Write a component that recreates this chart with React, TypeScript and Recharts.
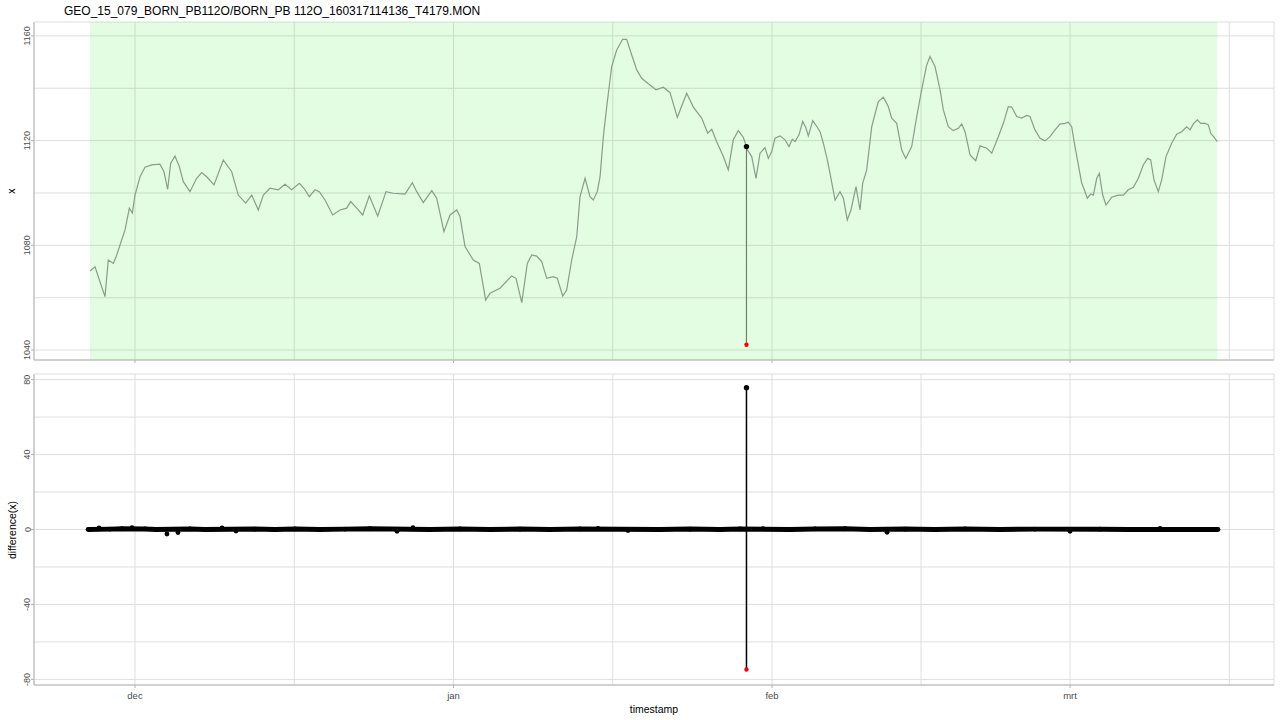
import React from 'react';
import { ComposedChart, Line, XAxis, YAxis, CartesianGrid, ReferenceArea } from 'recharts';

// time axis in days since 1 Dec 2015 (dec = 0, jan = 31, feb = 62, mrt = 91)
const days = [
  -4.38, -3.89, -3.41, -2.92, -2.6, -2.11, -1.85, -1.46, -0.97, -0.55, -0.26, 0.0, 0.49, 0.97, 1.63, 2.43, 2.82, 3.18, 3.47, 3.89,
  4.31, 4.7, 5.35, 6.0, 6.49, 6.98, 7.69, 8.59, 9.41, 10.05, 10.77, 11.36, 12.0, 12.49, 13.14, 13.95, 14.6, 15.25, 15.99, 16.45,
  16.96, 17.52, 17.94, 18.49, 19.24, 19.95, 20.6, 20.99, 21.58, 22.16, 22.8, 23.62, 24.43, 25.14, 26.28, 26.99, 27.42, 28.06, 28.88, 29.36,
  30.07, 30.66, 31.31, 31.63, 32.12, 32.92, 33.51, 34.13, 34.55, 35.52, 36.66, 37.08, 37.64, 38.18, 38.61, 39.09, 39.58, 40.07, 40.71, 41.1,
  41.63, 42.01, 42.5, 42.99, 43.31, 43.8, 44.28, 44.6, 44.99, 45.26, 45.58, 45.91, 46.39, 46.88, 47.46, 47.85, 48.34, 48.83, 49.31, 49.96,
  50.71, 51.42, 52.07, 52.78, 53.69, 54.34, 55.15, 55.74, 56.13, 56.61, 57.26, 57.74, 58.23, 58.71, 59.2, 59.51, 59.51, 59.51, 60.02,
  60.44, 60.83, 61.31, 61.64, 61.97, 62.29, 62.77, 63.26, 63.65, 63.97, 64.23, 64.62, 64.98, 65.27, 65.53, 65.96, 66.4, 66.67, 66.99, 67.38,
  67.64, 68.13, 68.61, 68.94, 69.32, 69.68, 70.17, 70.56, 70.82, 71.21, 71.7, 72.34, 72.83, 73.31, 73.64, 74.13, 74.62, 75.01, 75.59, 76.08,
  76.56, 77.05, 77.37, 77.86, 78.35, 78.67, 79.15, 79.64, 80.13, 80.46, 80.78, 81.27, 81.82, 82.24, 82.89, 83.38, 84.02, 84.51, 84.99, 85.32,
  85.81, 86.3, 86.78, 87.1, 87.59, 88.08, 88.56, 89.05, 89.54, 90.02, 90.51, 90.83, 91.16, 91.48, 91.81, 92.14, 92.39, 92.68, 93.01, 93.27,
  93.6, 93.85, 94.18, 94.5, 95.06, 95.7, 96.19, 96.67, 97.16, 97.65, 98.13, 98.56, 98.85, 99.17, 99.59, 99.92, 100.34, 100.89, 101.38, 101.87,
  102.35, 102.68, 103.0, 103.39, 103.72, 104.14, 104.46, 104.69, 105.01, 105.33,
];

const xValues = [
  1070.2, 1071.8, 1066.1, 1060.4, 1074.4, 1073.1, 1075.5, 1080.1, 1085.9, 1094.2, 1092.3, 1099.2, 1106.2, 1109.8, 1110.7, 1111.0, 1108.1, 1101.4, 1111.3, 1114.1,
  1110.1, 1104.3, 1100.5, 1105.6, 1107.8, 1106.2, 1103.1, 1112.6, 1108.1, 1099.2, 1096.1, 1099.2, 1093.5, 1099.2, 1101.8, 1101.2, 1103.3, 1101.2, 1103.7, 1101.8,
  1098.6, 1101.2, 1100.5, 1097.3, 1091.6, 1093.5, 1094.2, 1096.7, 1094.2, 1091.6, 1098.9, 1091.2, 1100.5, 1099.9, 1099.6, 1103.9, 1100.5, 1096.3, 1100.9, 1098.0,
  1085.2, 1091.6, 1093.5, 1091.0, 1079.5, 1074.4, 1073.1, 1059.1, 1061.7, 1063.6, 1068.3, 1067.4, 1058.1, 1073.1, 1076.3, 1075.9, 1073.8, 1067.4, 1068.0, 1067.4,
  1060.6, 1062.9, 1074.4, 1083.3, 1098.6, 1105.6, 1098.6, 1097.3, 1100.5, 1106.2, 1121.5, 1133.0, 1148.3, 1154.6, 1158.7, 1158.7, 1152.7, 1147.0, 1143.8, 1141.7,
  1139.4, 1140.4, 1138.3, 1128.9, 1138.1, 1132.8, 1128.6, 1122.8, 1124.3, 1119.6, 1113.9, 1108.8, 1120.3, 1123.8, 1121.3, 1117.7, 1042.0, 1117.0, 1113.9,
  1105.6, 1115.2, 1117.3, 1113.2, 1115.8, 1120.9, 1121.8, 1120.3, 1117.7, 1120.5, 1119.6, 1122.2, 1127.3, 1125.1, 1121.8, 1127.6, 1125.1, 1123.4, 1119.0, 1112.6,
  1107.5, 1097.3, 1100.5, 1098.0, 1089.7, 1093.5, 1102.4, 1093.5, 1103.7, 1108.8, 1125.3, 1134.9, 1136.6, 1133.0, 1128.6, 1126.6, 1116.4, 1113.2, 1117.7, 1129.2,
  1139.4, 1148.9, 1152.1, 1148.3, 1139.4, 1131.7, 1125.3, 1123.8, 1124.7, 1126.4, 1123.4, 1114.5, 1112.3, 1118.0, 1117.1, 1115.2, 1121.5, 1126.6, 1133.0, 1132.8,
  1129.2, 1128.6, 1129.6, 1129.2, 1124.1, 1120.9, 1119.9, 1121.5, 1124.1, 1126.3, 1126.6, 1127.0, 1125.3, 1117.7, 1110.7, 1103.7, 1101.2, 1098.0, 1099.6, 1099.2,
  1105.6, 1107.5, 1099.2, 1095.4, 1098.4, 1099.2, 1099.2, 1101.2, 1102.2, 1105.6, 1110.7, 1113.2, 1112.6, 1105.0, 1100.5, 1105.0, 1113.9, 1119.0, 1122.4, 1123.4,
  1125.3, 1124.1, 1126.4, 1127.9, 1126.6, 1126.6, 1126.0, 1122.8, 1121.3, 1119.6,
];

// difference(x): the band around zero, with the small steps that stick out of it
const diffDays = [
  -4.57, -3.5, -2.43, -1.27, -0.29, 0.97, 2.04, 3.11, 4.18, 5.35, 6.81, 8.47, 9.83, 11.68, 13.63, 15.57, 18.0, 20.44, 22.87, 25.5,
  27.06, 28.71, 31.63, 34.55, 37.47, 40.39, 43.31, 45.06, 47.98, 51.09, 54.01, 56.93, 58.88, 61.12, 63.75, 66.18, 69.1, 71.53, 73.19, 74.94,
  77.86, 80.78, 84.18, 87.59, 91.0, 93.92, 96.84, 99.76, 102.68, 105.4,
];
const diffValues = [
  0, 0.8, 0.2, 0.4, 1.0, 0.3, 0, -2.4, -1.6, 0.3, 0, 0.9, -0.8, 0.2, 0, 0.3, 0, 0.2, 0.4, -1.0,
  1.0, 0, 0.3, 0, 0.2, 0, 0.3, 0.6, -0.6, 0, 0.2, 0, 0.3, 0.5, 0, 0.3, 0.4, 0, -1.5, 0.2,
  0, 0.3, 0, 0.2, -1.0, 0.2, 0, 0.6, 0, 0,
];
// the jump into and out of the outlier
const spikeDiffs = [-74.7, 75.7];

const monthTicks = [0, 31, 62, 91];
const monthLabels = ['dec', 'jan', 'feb', 'mrt'];
const minorDayTicks = [15.5, 46.5, 76.5, 106.5];
const xMajorTicks = [1040, 1080, 1120, 1160];
const xMinorTicks = [1060, 1100, 1140];
const diffMajorTicks = [-80, -40, 0, 40, 80];
const diffMinorTicks = [-60, -20, 20, 60];

const title = 'GEO_15_079_BORN_PB112O/BORN_PB 112O_160317114136_T4179.MON';

const DAY_DOMAIN: [number, number] = [-9.83, 110.85];
const X_DOMAIN: [number, number] = [1036.2, 1165.3];
const DIFF_DOMAIN: [number, number] = [-83, 83];

const FONT = '"Liberation Sans", Arial, sans-serif';
const BORDER = '#b3b3b3';
const GRID = '#dedede';
const TEXT_GREY = '#4d4d4d';

const topData = days.map((t, i) => ({ t, x: xValues[i] }));
const outlierIdx = xValues.indexOf(Math.min(...xValues));
const outlierSeg = [topData[outlierIdx - 1], topData[outlierIdx]];
const diffData = diffDays.map((t, i) => ({ t, d: diffValues[i] }));
// the dense zero band is drawn as a thick line, bigger steps only as points
const bandData = diffData.filter((p) => Math.abs(p.d) < 0.5);
const spikeData = spikeDiffs.map((d) => ({ t: days[outlierIdx], d }));

const dayTicks = [...monthTicks, ...minorDayTicks].sort((a, b) => a - b);
const xTicks = [...xMajorTicks, ...xMinorTicks].sort((a, b) => a - b);
const diffTicks = [...diffMajorTicks, ...diffMinorTicks].sort((a, b) => a - b);

// bottom ticks: tick mark (and label) only on month starts, minor ones only feed the grid
const BottomTick = ({ x, y, payload, showLabels }: any) => {
  const i = monthTicks.indexOf(payload.value);
  if (i < 0) return <g />;
  return (
    <g>
      <line x1={x} x2={x} y1={y - 3} y2={y} stroke={BORDER} />
      {showLabels && (
        <text x={x} y={y + 11} textAnchor="middle" fontSize={9.5} fill={TEXT_GREY} fontFamily={FONT}>
          {monthLabels[i]}
        </text>
      )}
    </g>
  );
};

const LeftTick = ({ x, y, payload, majors }: any) => {
  if (!majors.includes(payload.value)) return <g />;
  return (
    <g>
      <line x1={x} x2={x + 3} y1={y} y2={y} stroke={BORDER} />
      <text
        x={x - 0.5}
        y={y}
        transform={`rotate(-90 ${x - 0.5} ${y})`}
        textAnchor="middle"
        fontSize={9}
        fill={TEXT_GREY}
        fontFamily={FONT}
      >
        {payload.value}
      </text>
    </g>
  );
};

// end points of the outlier jump: low end red, high end black
const endDot = (key: string, low: number) => (p: any) => {
  const isLow = p.payload[key] === low;
  return <circle key={`dot-${p.index}`} cx={p.cx} cy={p.cy} r={isLow ? 2.2 : 2.7} fill={isLow ? '#ff0000' : '#000000'} />;
};

const App = () => {
  return (
    <div style={{ position: 'absolute', left: 0, top: 0, width: 1280, height: 720, background: '#ffffff', fontFamily: FONT }}>
      <div style={{ position: 'absolute', left: 0, top: 0 }}>
        <ComposedChart width={1280} height={370} margin={{ top: 22, right: 6, bottom: 0, left: 0 }}>
          <CartesianGrid stroke={GRID} strokeWidth={1} />
          <XAxis
            dataKey="t"
            type="number"
            domain={DAY_DOMAIN}
            ticks={dayTicks}
            interval={0}
            allowDataOverflow
            height={10}
            tickSize={3}
            tickMargin={0}
            tickLine={false}
            axisLine={{ stroke: BORDER }}
            tick={(p: any) => <BottomTick {...p} showLabels={false} />}
          />
          <XAxis xAxisId="top" orientation="top" type="number" domain={DAY_DOMAIN} allowDataOverflow height={0} tick={false} tickLine={false} axisLine={{ stroke: BORDER }} />
          <YAxis
            type="number"
            domain={X_DOMAIN}
            ticks={xTicks}
            interval={0}
            allowDataOverflow
            width={34}
            tickSize={3}
            tickMargin={0}
            tickLine={false}
            axisLine={{ stroke: BORDER }}
            tick={(p: any) => <LeftTick {...p} majors={xMajorTicks} />}
          />
          <YAxis yAxisId="right" orientation="right" type="number" domain={X_DOMAIN} allowDataOverflow width={0} tick={false} tickLine={false} axisLine={{ stroke: BORDER }} />
          <ReferenceArea x1={days[0]} x2={days[days.length - 1]} fill="rgb(0,240,0)" fillOpacity={0.115} stroke="none" ifOverflow="hidden" />
          <Line data={topData} dataKey="x" type="linear" stroke="#8c9b8c" strokeWidth={1.2} dot={false} isAnimationActive={false} />
          <Line data={outlierSeg} dataKey="x" type="linear" stroke="#6f7e6f" strokeWidth={1} dot={endDot('x', xValues[outlierIdx])} isAnimationActive={false} />
        </ComposedChart>
      </div>

      <div style={{ position: 'absolute', left: 0, top: 360 }}>
        <ComposedChart width={1280} height={360} margin={{ top: 14, right: 6, bottom: 0, left: 0 }}>
          <CartesianGrid stroke={GRID} strokeWidth={1} />
          <XAxis
            dataKey="t"
            type="number"
            domain={DAY_DOMAIN}
            ticks={dayTicks}
            interval={0}
            allowDataOverflow
            height={35}
            tickSize={3}
            tickMargin={0}
            tickLine={false}
            axisLine={{ stroke: BORDER }}
            tick={(p: any) => <BottomTick {...p} showLabels />}
          />
          <XAxis xAxisId="top" orientation="top" type="number" domain={DAY_DOMAIN} allowDataOverflow height={0} tick={false} tickLine={false} axisLine={{ stroke: BORDER }} />
          <YAxis
            type="number"
            domain={DIFF_DOMAIN}
            ticks={diffTicks}
            interval={0}
            allowDataOverflow
            width={34}
            tickSize={3}
            tickMargin={0}
            tickLine={false}
            axisLine={{ stroke: BORDER }}
            tick={(p: any) => <LeftTick {...p} majors={diffMajorTicks} />}
          />
          <YAxis yAxisId="right" orientation="right" type="number" domain={DIFF_DOMAIN} allowDataOverflow width={0} tick={false} tickLine={false} axisLine={{ stroke: BORDER }} />
          <Line data={bandData} dataKey="d" type="linear" stroke="#000000" strokeWidth={5} dot={false} isAnimationActive={false} />
          <Line
            data={diffData}
            dataKey="d"
            type="linear"
            stroke="none"
            dot={{ r: 2.4, fill: '#000000', stroke: 'none' }}
            isAnimationActive={false}
          />
          <Line data={spikeData} dataKey="d" type="linear" stroke="#000000" strokeWidth={1.5} dot={endDot('d', spikeDiffs[0])} isAnimationActive={false} />
        </ComposedChart>
      </div>

      <svg width={1280} height={720} style={{ position: 'absolute', left: 0, top: 0, pointerEvents: 'none' }}>
        <text x={64} y={15} fontSize={12} fill="#000000" fontFamily={FONT}>
          {title}
        </text>
        <text x={15} y={191} transform="rotate(-90 15 191)" textAnchor="middle" fontSize={10.5} fill="#000000" fontFamily={FONT}>
          x
        </text>
        <text x={16} y={530} transform="rotate(-90 16 530)" textAnchor="middle" fontSize={10.5} fill="#000000" fontFamily={FONT}>
          difference(x)
        </text>
        <text x={654} y={713} textAnchor="middle" fontSize={10.5} fill="#000000" fontFamily={FONT}>
          timestamp
        </text>
      </svg>
    </div>
  );
};

export default App;
